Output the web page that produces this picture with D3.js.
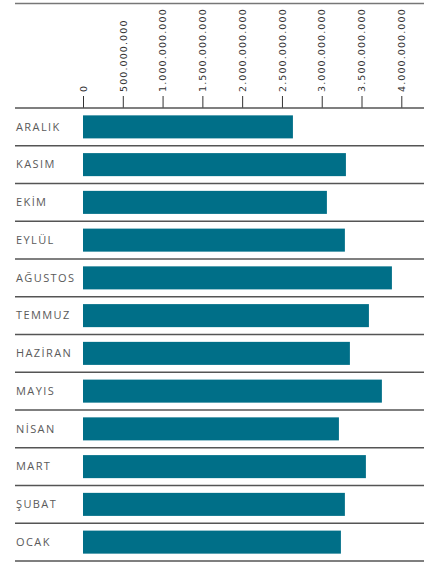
<!DOCTYPE html>
<html>
<head>
<meta charset="utf-8">
<script src="https://cdn.jsdelivr.net/npm/d3@7"></script>
<style>
body{margin:0;background:#fff}
</style>
</head>
<body>
<div id="chart"></div>
<script>
// months top to bottom
var months=["ARALIK","KASIM","EKİM","EYLÜL","AĞUSTOS","TEMMUZ","HAZİRAN","MAYIS","NİSAN","MART","ŞUBAT","OCAK"]
var values=[2638000000,3304000000,3065000000,3291000000,3882000000,3593000000,3354000000,3756000000,3216000000,3555000000,3291000000,3241000000]
var ticks=[0,500000000,1000000000,1500000000,2000000000,2500000000,3000000000,3500000000,4000000000]

var svgWidth=432
var svgHeight=563
var left=15, right=424
var axisY=108, bottomY=561

var svg=d3.select("#chart")
    .append("svg")
    .attr("width",svgWidth)
    .attr("height",svgHeight)

var XScale=d3.scaleLinear()
    .domain([0,4000000000])
    .range([83,401.3])
var YScale=d3.scaleBand()
    .domain(months)
    .range([axisY,bottomY])
    .paddingInner(0.39)
    .paddingOuter(0.195)

var fmt=function(v){return d3.format(",")(v).replace(/,/g,".")}

// top rule
svg.append("line")
    .attr("x1",left).attr("x2",right)
    .attr("y1",3.5).attr("y2",3.5)
    .attr("stroke","#777").attr("stroke-width",1.3)

var topAxis=d3.axisTop(XScale)
    .tickValues(ticks)
    .tickSize(12)
    .tickFormat(fmt)
var ax=svg.append("g")
    .attr("transform",`translate(0,${axisY})`)
    .call(topAxis)
ax.select(".domain").remove()
ax.selectAll(".tick line").attr("stroke","#333")
ax.selectAll(".tick text")
    .attr("transform","rotate(-90)")
    .attr("x",16)
    .attr("y",0)
    .attr("dy","0.34em")
    .attr("text-anchor","start")
    .attr("font-family","DejaVu Sans")
    .attr("font-size","9.5px")
    .attr("letter-spacing","1.1px")
    .attr("fill","#333")

// row rules
var rows=months.map((m,i)=>axisY+i*(bottomY-axisY)/months.length)
rows.push(bottomY)
svg.selectAll(".rule")
    .data(rows)
    .enter()
    .append("line")
    .classed("rule",true)
    .attr("x1",left).attr("x2",right)
    .attr("y1",d=>d).attr("y2",d=>d)
    .attr("stroke","#555").attr("stroke-width",1.3)

svg.selectAll(".bar")
    .data(values)
    .enter()
    .append("rect")
    .classed("bar",true)
    .attr("x",XScale(0))
    .attr("y",(d,i)=>YScale(months[i]))
    .attr("width",d=>XScale(d)-XScale(0))
    .attr("height",YScale.bandwidth())
    .attr("fill","#006f88")

svg.selectAll(".label")
    .data(months)
    .enter()
    .append("text")
    .classed("label",true)
    .attr("x",16)
    .attr("y",d=>YScale(d)+YScale.bandwidth()/2)
    .attr("dy","0.35em")
    .attr("font-family","Open Sans")
    .attr("font-size","11px")
    .attr("letter-spacing","1.4px")
    .attr("fill","#5a5a5a")
    .text(d=>d)
</script>
</body>
</html>
